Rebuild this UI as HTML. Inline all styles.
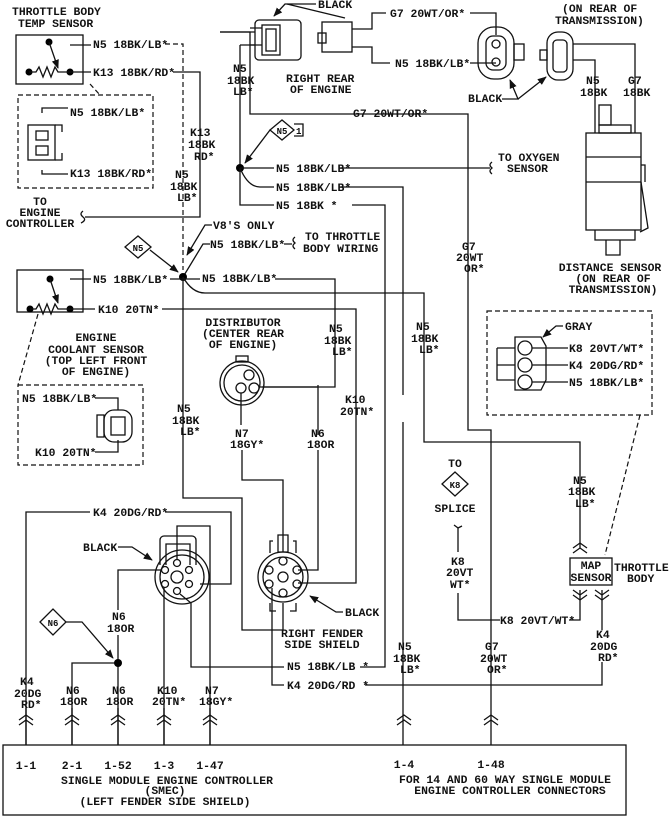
<!DOCTYPE html>
<html><head><style>
body{margin:0;background:#fff}
svg{display:block}
text{font-family:"Liberation Mono",monospace;font-size:11.4px;font-weight:bold;fill:#111}
.l{stroke:#111;stroke-width:1.3;fill:none}
.d{stroke:#111;stroke-width:1.2;fill:none;stroke-dasharray:5,3}
.m{text-anchor:middle}
</style></head><body>
<svg width="671" height="822" viewBox="0 0 671 822">
<defs><marker id="a" viewBox="0 0 10 10" refX="9" refY="5" markerWidth="7" markerHeight="7" orient="auto"><path d="M0 1 L10 5 L0 9 Z" fill="#111"/></marker></defs>
<!-- Throttle body temp sensor -->
<text x="12" y="15">THROTTLE BODY</text><text x="18" y="27">TEMP SENSOR</text>
<rect class="l" x="16" y="35" width="67" height="49"/>
<circle cx="49" cy="42" r="3.5"/><circle cx="29" cy="72" r="3.5"/><circle cx="70" cy="72" r="3.5"/>
<path class="l" d="M49 42 L58 68" marker-end="url(#a)"/>
<path class="l" d="M29 72 H36 l3 -5 l4 10 l4 -10 l4 10 l4 -10 l3 5 H70" />
<path class="l" d="M70 45 H91 M70 72 H91"/>
<text x="93" y="48">N5 18BK/LB*</text>
<path class="d" d="M165 44 H183 V270"/>
<text x="93" y="76">K13 18BK/RD*</text>
<path class="l" d="M173 72 H200 V217 H85"/>
<path class="l" d="M83 211 q-4 3 0 6 q4 3 -2 6"/>
<text x="40" y="205" class="m">TO</text><text x="40" y="216" class="m">ENGINE</text><text x="40" y="227" class="m">CONTROLLER</text>
<path class="d" d="M90 84 L100 95 M18 95 H153 V188 H18 Z"/>
<path class="l" d="M42 113 V108 H68 M42 170 V174 H68"/>
<text x="70" y="116">N5 18BK/LB*</text><text x="70" y="177">K13 18BK/RD*</text>
<rect class="l" x="28" y="125" width="27" height="35"/><rect class="l" x="36" y="131" width="12" height="9"/><rect class="l" x="36" y="146" width="12" height="9"/>
<path class="l" d="M55 125 H62 V132 M55 160 H62 V153"/>
<text x="190" y="136">K13</text><text x="188" y="148">18BK</text><text x="194" y="160">RD*</text>
<text x="175" y="178">N5</text><text x="170" y="190">18BK</text><text x="177" y="201">LB*</text>
<!-- V8 node -->
<text x="213" y="229">V8'S ONLY</text>
<path class="l" d="M212 225 H205 L187 255" marker-end="url(#a)"/>
<path class="l" d="M210 244 H203 L183 277"/>
<text x="210" y="248">N5 18BK/LB*</text>
<path class="l" d="M284 244 H292 M295 237 q-4 3 0 6 q-4 3 0 6"/>
<text x="305" y="240">TO THROTTLE</text><text x="303" y="252">BODY WIRING</text>
<path class="l" d="M125 247 l13 -11 l13 11 l-13 11 Z"/>
<path class="l" d="M150 250 L178 272" marker-end="url(#a)"/>
<text x="138" y="251" class="m" style="font-size:9px">N5</text>
<circle cx="183" cy="277" r="4"/>
<path class="l" d="M170 279 H183 M183 277 V498 H242 V630 H283 V603"/>
<path class="l" d="M200 279 H183 M275 279 H335 V387 H262"/>
<text x="202" y="282">N5 18BK/LB*</text>
<path class="l" d="M183 277 Q192 293 205 293 H424 V442 H580 V548"/>
<!-- Engine coolant sensor -->
<rect class="l" x="17" y="270" width="66" height="42"/>
<circle cx="50" cy="279" r="3.5"/><circle cx="30" cy="309" r="3.5"/><circle cx="70" cy="309" r="3.5"/>
<path class="l" d="M50 279 L58 303" marker-end="url(#a)"/>
<path class="l" d="M30 309 H36 l3 -5 l4 10 l4 -10 l4 10 l4 -10 l3 5 H70"/>
<path class="l" d="M70 279 H91 M70 309 H95"/>
<text x="93" y="283">N5 18BK/LB*</text>
<text x="98" y="313">K10 20TN*</text>
<path class="l" d="M162 309 H356 V583 H298"/>
<text x="96" y="341" class="m">ENGINE</text><text x="96" y="353" class="m">COOLANT SENSOR</text><text x="96" y="364" class="m">(TOP LEFT FRONT</text><text x="96" y="375" class="m">OF ENGINE)</text>
<path class="d" d="M38 314 L18 385 M18 385 H143 V465 H18 Z"/>
<text x="22" y="402">N5 18BK/LB*</text><text x="35" y="456">K10 20TN*</text>
<path class="l" d="M95 398 H118 V410 M95 452 H118 V440"/>
<rect class="l" x="104" y="410" width="28" height="32" rx="10"/><rect class="l" x="111" y="417" width="14" height="18"/><rect class="l" x="97" y="415" width="7" height="22"/>
<!-- Right rear engine connectors -->
<rect class="l" x="255" y="20" width="46" height="40" rx="4"/><rect class="l" x="262" y="25" width="18" height="30"/><rect class="l" x="266" y="29" width="10" height="22"/>
<path class="l" d="M250 28 H262 M250 45 H262 M220 32 H250 V114 H468 V430 H491 V745"/>
<path class="l" d="M220 32 H255 M240 45 H255 M240 45 V168"/>
<text x="318" y="8">BLACK</text><path class="l" d="M316 4 H285 L274 16" marker-end="url(#a)"/>
<path class="l" d="M287 4 L345 18"/>
<text x="233" y="72">N5</text><text x="227" y="84">18BK</text><text x="233" y="95">LB*</text>
<text x="286" y="82">RIGHT REAR</text><text x="290" y="93">OF ENGINE</text>
<rect class="l" x="322" y="22" width="30" height="30"/><rect class="l" x="318" y="33" width="8" height="10"/>
<path class="l" d="M352 29 H372 V13 H386 M352 47 H372 V63 H390"/>
<text x="390" y="17">G7 20WT/OR*</text><text x="395" y="67">N5 18BK/LB*</text>
<path class="l" d="M470 13 H496 V35 M470 63 H496"/>
<rect class="l" x="478" y="27" width="36" height="52" rx="16"/><rect class="l" x="486" y="36" width="20" height="34" rx="7"/>
<circle class="l" cx="496" cy="44" r="4"/><circle class="l" cx="496" cy="62" r="4"/><rect class="l" x="514" y="44" width="10" height="16"/>
<text x="468" y="102">BLACK</text>
<path class="l" d="M502 99 H518 L510 80" marker-end="url(#a)"/>
<path class="l" d="M518 99 L546 77" marker-end="url(#a)"/>
<rect class="l" x="547" y="32" width="26" height="48" rx="11"/><rect class="l" x="553" y="40" width="14" height="32" rx="4"/><rect class="l" x="540" y="50" width="7" height="10"/>
<path class="l" d="M573 44 H635 V133 M573 60 H595 V133"/>
<text x="562" y="12">(ON REAR OF</text><text x="555" y="24">TRANSMISSION)</text>
<text x="586" y="84">N5</text><text x="580" y="96">18BK</text><text x="628" y="84">G7</text><text x="623" y="96">18BK</text>
<!-- Distance sensor -->
<rect class="l" x="599" y="105" width="12" height="20"/><rect class="l" x="599" y="125" width="32" height="8"/>
<rect class="l" x="586" y="133" width="55" height="97"/><path class="l" d="M586 157 H641 M586 182 H641 M641 165 H645 V182"/>
<path class="l" d="M595 230 V240 H635 V230 M606 240 V255 H620 V240 M641 182 L648 228 L640 232"/>
<text x="610" y="271" class="m">DISTANCE SENSOR</text><text x="613" y="282" class="m">(ON REAR OF</text><text x="613" y="293" class="m">TRANSMISSION)</text>
<!-- Oxygen etc -->
<circle cx="240" cy="168" r="4"/>
<path class="l" d="M240 168 H274 M340 168 H490 M240 168 Q248 187 260 187 H274 M340 187 H403 V395 M403 422 V745 M240 168 V205 H274 M352 205 H385 V667 H360"/>
<path class="l" d="M492 162 q-4 3 0 6 q-4 3 0 6"/>
<text x="276" y="172">N5 18BK/LB*</text><text x="276" y="191">N5 18BK/LB*</text><text x="276" y="209">N5 18BK *</text>
<text x="498" y="161">TO OXYGEN</text><text x="507" y="172">SENSOR</text>
<path class="l" d="M270 130 l12 -10 l12 10 l-12 10 Z M294 124 H303 V136 H294"/>
<path class="l" d="M270 130 L245 163" marker-end="url(#a)"/>
<text x="282" y="134" class="m" style="font-size:9px">N5</text><text x="296" y="134" style="font-size:9px">1</text>
<text x="353" y="117">G7 20WT/OR*</text>
<text x="462" y="250">G7</text><text x="456" y="261">20WT</text><text x="464" y="272">OR*</text>
<text x="416" y="330">N5</text><text x="411" y="342">18BK</text><text x="419" y="353">LB*</text>
<!-- Gray connector -->
<path class="d" d="M487 311 H652 V415 H487 Z M640 415 L605 555"/>
<text x="565" y="330">GRAY</text><path class="l" d="M563 326 H556 L543 337" marker-end="url(#a)"/>
<path class="l" d="M515 337 H541 L546 346 V380 L541 390 H515 Z M497 348 H515 M497 348 V380 H515 M497 365 H515"/>
<circle class="l" cx="525" cy="348" r="7"/><circle class="l" cx="525" cy="365" r="7"/><circle class="l" cx="525" cy="382" r="7"/>
<path class="l" d="M532 348 H568 M532 365 H568 M532 382 H568"/>
<text x="569" y="352">K8 20VT/WT*</text><text x="569" y="369">K4 20DG/RD*</text><text x="569" y="386">N5 18BK/LB*</text>
<!-- MAP -->
<text x="573" y="484">N5</text><text x="568" y="495">18BK</text><text x="575" y="507">LB*</text>
<path class="l" d="M573 548 l7 -5 l7 5 M573 553 l7 -5 l7 5"/>
<rect class="l" x="570" y="558" width="42" height="27"/>
<text x="591" y="569" class="m">MAP</text><text x="591" y="581" class="m">SENSOR</text>
<text x="614" y="571">THROTTLE</text><text x="627" y="582">BODY</text>
<path class="l" d="M573 590 l7 5 l7 -5 M573 595 l7 5 l7 -5 M595 590 l7 5 l7 -5 M595 595 l7 5 l7 -5"/>
<path class="l" d="M580 590 V620 H569 M500 620 H458 V593 M458 552 V528 l-4 -3 M458 528 l4 -2 M602 590 V630 M602 662 V685 H365"/>
<text x="500" y="624">K8 20VT/WT*</text>
<text x="451" y="565">K8</text><text x="446" y="576">20VT</text><text x="450" y="588">WT*</text>
<text x="455" y="467" class="m">TO</text>
<path class="l" d="M442 484 l13 -12 l13 12 l-13 12 Z"/><text x="455" y="488" class="m" style="font-size:9px">K8</text>
<text x="455" y="512" class="m">SPLICE</text>
<text x="596" y="638">K4</text><text x="590" y="650">20DG</text><text x="598" y="661">RD*</text>
<!-- Distributor -->
<text x="243" y="326" class="m">DISTRIBUTOR</text><text x="243" y="337" class="m">(CENTER REAR</text><text x="243" y="348" class="m">OF ENGINE)</text>
<circle class="l" cx="242" cy="383" r="22"/><circle class="l" cx="242" cy="383" r="18"/><rect class="l" x="236" y="356" width="12" height="6"/>
<circle class="l" cx="249" cy="375" r="5"/><circle class="l" cx="241" cy="388" r="5"/><circle class="l" cx="254" cy="388" r="5"/>
<path class="l" d="M241 393 V425 M318 385 V435 M318 450 V570 H298"/>
<path class="l" d="M259 387 H318"/>
<text x="235" y="437">N7</text><text x="230" y="448">18GY*</text>
<text x="311" y="437">N6</text><text x="307" y="448">18OR</text>
<text x="329" y="332">N5</text><text x="324" y="344">18BK</text><text x="332" y="355">LB*</text>
<text x="345" y="403">K10</text><text x="340" y="415">20TN*</text>
<text x="177" y="412">N5</text><text x="172" y="424">18BK</text><text x="180" y="435">LB*</text>
<path class="l" d="M242 450 V480 H283 V552"/>
<!-- Right fender 6-pin -->
<circle class="l" cx="283" cy="577" r="25"/><circle class="l" cx="283" cy="577" r="20"/>
<path class="l" d="M278 535 h10 v17 h-10 Z M273 541 h-3 v12 M293 541 h3 v12 M270 603 v8 h6 M296 603 v8 h-6"/>
<circle class="l" cx="283" cy="577" r="5"/><circle class="l" cx="283" cy="561" r="4"/><circle class="l" cx="283" cy="593" r="4"/><circle class="l" cx="297" cy="570" r="4"/><circle class="l" cx="297" cy="584" r="4"/><circle class="l" cx="269" cy="584" r="4"/><circle class="l" cx="269" cy="570" r="4"/>
<path class="l" d="M272 588 V685 H284"/>
<text x="345" y="616">BLACK</text><path class="l" d="M343 612 H336 L310 596" marker-end="url(#a)"/>
<text x="322" y="637" class="m">RIGHT FENDER</text><text x="322" y="648" class="m">SIDE SHIELD</text>
<text x="287" y="670">N5 18BK/LB *</text><text x="287" y="689">K4 20DG/RD *</text>
<!-- Black connector left -->
<path class="l" d="M26 745 V512 H90 M165 512 H231 V584 H200"/>
<text x="93" y="516">K4 20DG/RD*</text>
<circle class="l" cx="182" cy="577" r="27"/><circle class="l" cx="182" cy="577" r="22"/>
<path class="l" d="M160 565 V540 a4 4 0 0 1 4 -4 h28 a4 4 0 0 1 4 4 V565 M166 565 V544 h24 V565"/>
<circle class="l" cx="177" cy="577" r="6"/><circle class="l" cx="177" cy="563" r="3.5"/><circle class="l" cx="177" cy="591" r="3.5"/><circle class="l" cx="165" cy="570" r="3.5"/><circle class="l" cx="165" cy="584" r="3.5"/><circle class="l" cx="189" cy="584" r="3.5"/><circle class="l" cx="189" cy="570" r="3.5"/>
<text x="83" y="551">BLACK</text><path class="l" d="M118 547 H132 L152 560" marker-end="url(#a)"/>
<path class="l" d="M177 559 V526 H210 V745 M164 588 V745 M161 570 H118 V610 M118 635 V745 M180 594 L191 603 V667 H284 M118 663 H72 V745"/>
<circle cx="118" cy="663" r="4"/>
<path class="l" d="M40 622 l13 -13 l13 13 l-13 13 Z"/>
<path class="l" d="M66 622 H82 L113 658" marker-end="url(#a)"/>
<text x="53" y="626" class="m" style="font-size:9px">N6</text>
<text x="112" y="620">N6</text><text x="107" y="632">18OR</text>
<text x="20" y="685">K4</text><text x="14" y="697">20DG</text><text x="21" y="708">RD*</text>
<text x="66" y="694">N6</text><text x="60" y="705">18OR</text>
<text x="112" y="694">N6</text><text x="106" y="705">18OR</text>
<text x="157" y="694">K10</text><text x="152" y="705">20TN*</text>
<text x="205" y="694">N7</text><text x="199" y="705">18GY*</text>
<text x="398" y="650">N5</text><text x="393" y="662">18BK</text><text x="400" y="673">LB*</text>
<text x="485" y="650">G7</text><text x="480" y="662">20WT</text><text x="487" y="673">OR*</text>
<!-- Connector marks -->
<path class="l" d="M19 720 l7 -5 l7 5 M19 725 l7 -5 l7 5 M65 720 l7 -5 l7 5 M65 725 l7 -5 l7 5 M111 720 l7 -5 l7 5 M111 725 l7 -5 l7 5 M157 720 l7 -5 l7 5 M157 725 l7 -5 l7 5 M203 720 l7 -5 l7 5 M203 725 l7 -5 l7 5 M397 720 l7 -5 l7 5 M397 725 l7 -5 l7 5 M484 720 l7 -5 l7 5 M484 725 l7 -5 l7 5"/>
<path class="l" d="M26 708 V745 M72 708 V745 M118 708 V745 M164 708 V745 M210 708 V745"/>
<!-- SMEC box -->
<rect class="l" x="3" y="745" width="623" height="70"/>
<text x="26" y="769" class="m">1-1</text><text x="72" y="769" class="m">2-1</text><text x="118" y="769" class="m">1-52</text><text x="164" y="769" class="m">1-3</text><text x="210" y="769" class="m">1-47</text>
<text x="404" y="768" class="m">1-4</text><text x="491" y="768" class="m">1-48</text>
<text x="167" y="784" class="m">SINGLE MODULE ENGINE CONTROLLER</text><text x="165" y="794" class="m">(SMEC)</text><text x="165" y="805" class="m">(LEFT FENDER SIDE SHIELD)</text>
<text x="505" y="783" class="m">FOR 14 AND 60 WAY SINGLE MODULE</text><text x="510" y="794" class="m">ENGINE CONTROLLER CONNECTORS</text>
</svg>
</body></html>
